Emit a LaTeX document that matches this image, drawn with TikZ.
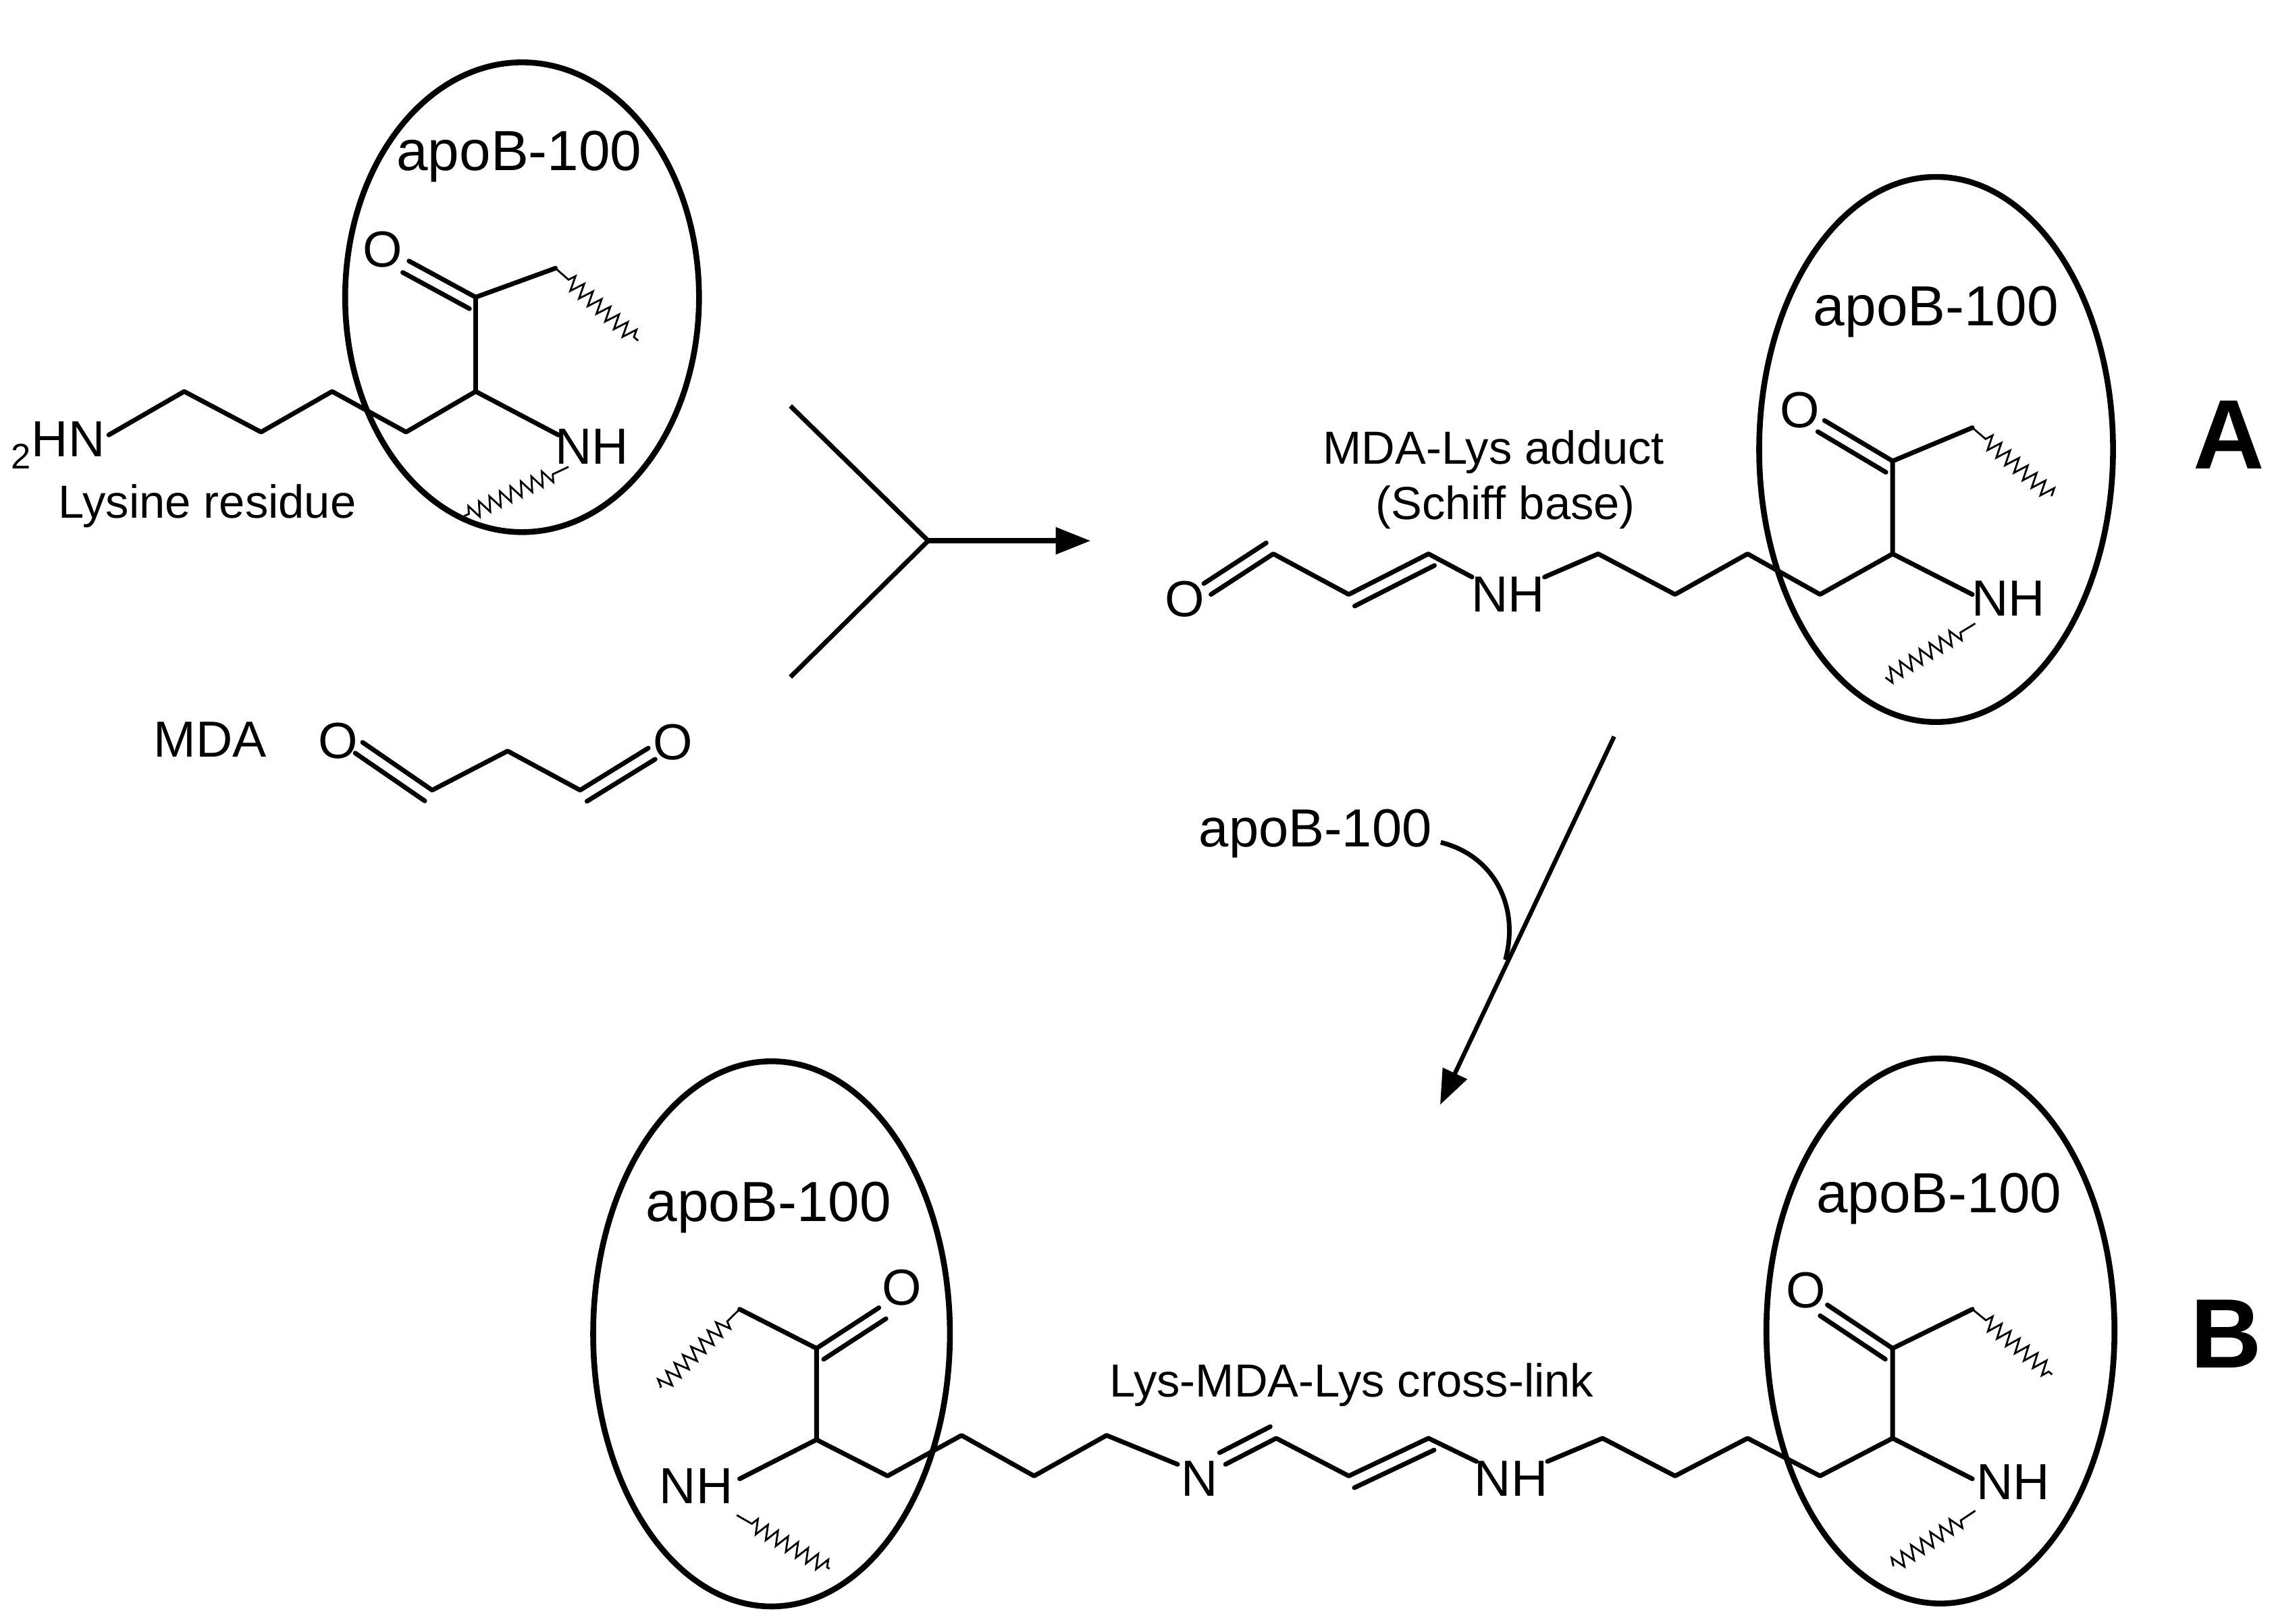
\documentclass[tikz,border=0pt]{standalone}
\usepackage{fontspec}
\setmainfont{Liberation Sans}
\usetikzlibrary{calc,arrows.meta,decorations.pathmorphing}
\begin{document}
\begin{tikzpicture}[x=1pt,y=-1pt,
  bond/.style={line width=3.2pt,line cap=round,line join=round},
  ring/.style={line width=4pt},
  wavy/.style={line width=1.3pt,decorate,decoration={zigzag,amplitude=5pt,segment length=8pt,pre length=12pt}},
  atom/.style={font=\fontsize{35}{38}\selectfont,inner sep=0pt},
  lab/.style={font=\fontsize{32}{36}\selectfont,inner sep=0pt},
  apo/.style={font=\fontsize{39}{42}\selectfont,inner sep=0pt},
  big/.style={font=\bfseries\fontsize{68}{70}\selectfont,inner sep=0pt},
  arr/.style={line width=3.5pt,-{Triangle[length=24pt,width=18pt]}}]
\newcommand\db[3]{\draw[bond] ($(#1)!#3!90:(#2)$) -- ($(#2)!#3!-90:(#1)$);}
\useasboundingbox (0,0) rectangle (1568,1120);
% ---------- Lysine residue ----------
\draw[ring] (360,205) ellipse [x radius=122,y radius=162];
\node[apo] (t1) at (358,108) {apoB-100};
\node[atom] (hn) at (40,307) {$_{\mathrm{2}}$HN};
\node[lab] (lys) at (143,349) {Lysine residue};
\coordinate (l1) at (75,300); \coordinate (l2) at (127,270); \coordinate (l3) at (180,298);
\coordinate (l4) at (229,270); \coordinate (l5) at (280,298); \coordinate (la) at (328,270);
\coordinate (lc) at (328,205); \coordinate (lo) at (282,180); \coordinate (lr) at (383,185);
\coordinate (ln) at (385,300);
\node[atom] (o1) at (264,172) {O};
\node[atom] (nh1) at (408,308) {NH};
\draw[bond] (l1)--(l2)--(l3)--(l4)--(l5)--(la)--(lc)--(lr);
\draw[bond] (la)--(ln);
\draw[bond] (lc)--(lo); \db{lc}{lo}{9pt}
\draw[wavy] (lr) -- (440,235);
\draw[wavy] (392,322) -- (320,356);
% ---------- MDA ----------
\node[atom] (mda) at (145,510) {MDA};
\node[atom] (o2) at (233,511) {O};
\node[atom] (o3) at (464,512) {O};
\coordinate (m0) at (250,512); \coordinate (m1) at (298,545); \coordinate (m2) at (350,518);
\coordinate (m3) at (400,545); \coordinate (m4) at (447,516);
\draw[bond] (m0)--(m1)--(m2)--(m3)--(m4);
\db{m1}{m0}{9pt}
\db{m3}{m4}{-9pt}
% ---------- reaction arrow 1 ----------
\coordinate (r1) at (545,280); \coordinate (r2) at (545,467); \coordinate (rj) at (640,373);
\coordinate (re) at (752,373);
\draw[bond,line cap=butt] (r1)--(rj)--(r2);
\draw[arr] (rj)--(re);
% ---------- A: Schiff base ----------
\draw[ring] (1335,310) ellipse [x radius=122,y radius=188];
\node[apo] (t2) at (1335,215) {apoB-100};
\node[lab] (ad1) at (1030,312) {MDA-Lys adduct};
\node[lab] (ad2) at (1038,350) {(Schiff base)};
\node[big] (A) at (1537,300) {A};
\node[atom] (o4) at (817,413) {O};
\node[atom] (nh2) at (1040,410) {NH};
\node[atom] (o5) at (1241,283) {O};
\node[atom] (nh3) at (1385,413) {NH};
\coordinate (a0) at (835,410); \coordinate (a1) at (878,382); \coordinate (a2) at (930,410);
\coordinate (a3) at (985,382); \coordinate (a4) at (1015,398);
\coordinate (a5) at (1065,398); \coordinate (a6) at (1102,382); \coordinate (a7) at (1155,410);
\coordinate (a8) at (1205,382); \coordinate (a9) at (1255,410); \coordinate (aa) at (1305,382);
\coordinate (ac) at (1305,318); \coordinate (ao) at (1258,290); \coordinate (ar) at (1360,295);
\coordinate (an) at (1360,410);
\draw[bond] (a0)--(a1)--(a2)--(a3)--(a4);
\db{a1}{a0}{-9pt}
\db{a2}{a3}{-9pt}
\draw[bond] (a5)--(a6)--(a7)--(a8)--(a9)--(aa)--(ac)--(ar);
\draw[bond] (aa)--(an);
\draw[bond] (ac)--(ao); \db{ac}{ao}{9pt}
\draw[wavy] (ar) -- (1415,342);
\draw[wavy] (1362,430) -- (1300,468);
% ---------- arrow 2 ----------
\coordinate (s1) at (1113,508); \coordinate (s2) at (993,762);
\draw[arr,line width=3pt] (s1)--(s2);
\node[apo,font=\fontsize{37}{40}\selectfont] (t3) at (907,575) {apoB-100};
\coordinate (cv) at (1038,662);
\draw[bond,line cap=butt] (t3.east) ++(6,6) .. controls (1030,590) and (1048,625) .. (cv);
% ---------- B: cross-link ----------
\draw[ring] (532,920) ellipse [x radius=123,y radius=188];
\draw[ring] (1338,918) ellipse [x radius=120,y radius=188];
\node[apo] (t4) at (530,833) {apoB-100};
\node[apo] (t5) at (1337,827) {apoB-100};
\node[lab] (xl) at (932,955) {Lys-MDA-Lys cross-link};
\node[big] (B) at (1535,920) {B};
\node[atom] (o6) at (622,888) {O};
\node[atom] (nh4) at (480,1025) {NH};
\node[atom] (n5) at (827,1020) {N};
\node[atom] (nh6) at (1042,1020) {NH};
\node[atom] (o7) at (1245,890) {O};
\node[atom] (nh7) at (1388,1022) {NH};
\coordinate (bc) at (563,930); \coordinate (bo) at (606,902); \coordinate (bl) at (510,903);
\coordinate (ba) at (563,993); \coordinate (bn) at (510,1020);
\coordinate (b1) at (612,1018); \coordinate (b2) at (663,990); \coordinate (b3) at (713,1018);
\coordinate (b4) at (763,990); \coordinate (b5) at (812,1010);
\coordinate (b6) at (845,1010); \coordinate (b7) at (880,992); \coordinate (b8) at (930,1018);
\coordinate (b9) at (985,992); \coordinate (b10) at (1018,1008);
\coordinate (c1) at (1067,1008); \coordinate (c2) at (1105,992); \coordinate (c3) at (1155,1018);
\coordinate (c4) at (1205,992); \coordinate (c5) at (1255,1018); \coordinate (ca) at (1305,992);
\coordinate (cc) at (1305,930); \coordinate (co) at (1260,900); \coordinate (cr) at (1360,903);
\coordinate (cn) at (1360,1020);
\draw[bond] (bl)--(bc)--(ba)--(b1)--(b2)--(b3)--(b4)--(b5);
\draw[bond] (ba)--(bn);
\draw[bond] (bc)--(bo); \db{bc}{bo}{-9pt}
\draw[bond] (b6)--(b7)--(b8)--(b9)--(b10);
\db{b7}{b6}{-9pt}
\db{b8}{b9}{-9pt}
\draw[bond] (c1)--(c2)--(c3)--(c4)--(c5)--(ca)--(cc)--(cr);
\draw[bond] (ca)--(cn);
\draw[bond] (cc)--(co); \db{cc}{co}{9pt}
\draw[wavy] (bl) -- (455,957);
\draw[wavy] (508,1045) -- (572,1082);
\draw[wavy] (cr) -- (1415,948);
\draw[wavy] (1362,1042) -- (1305,1080);
\end{tikzpicture}
\end{document}
